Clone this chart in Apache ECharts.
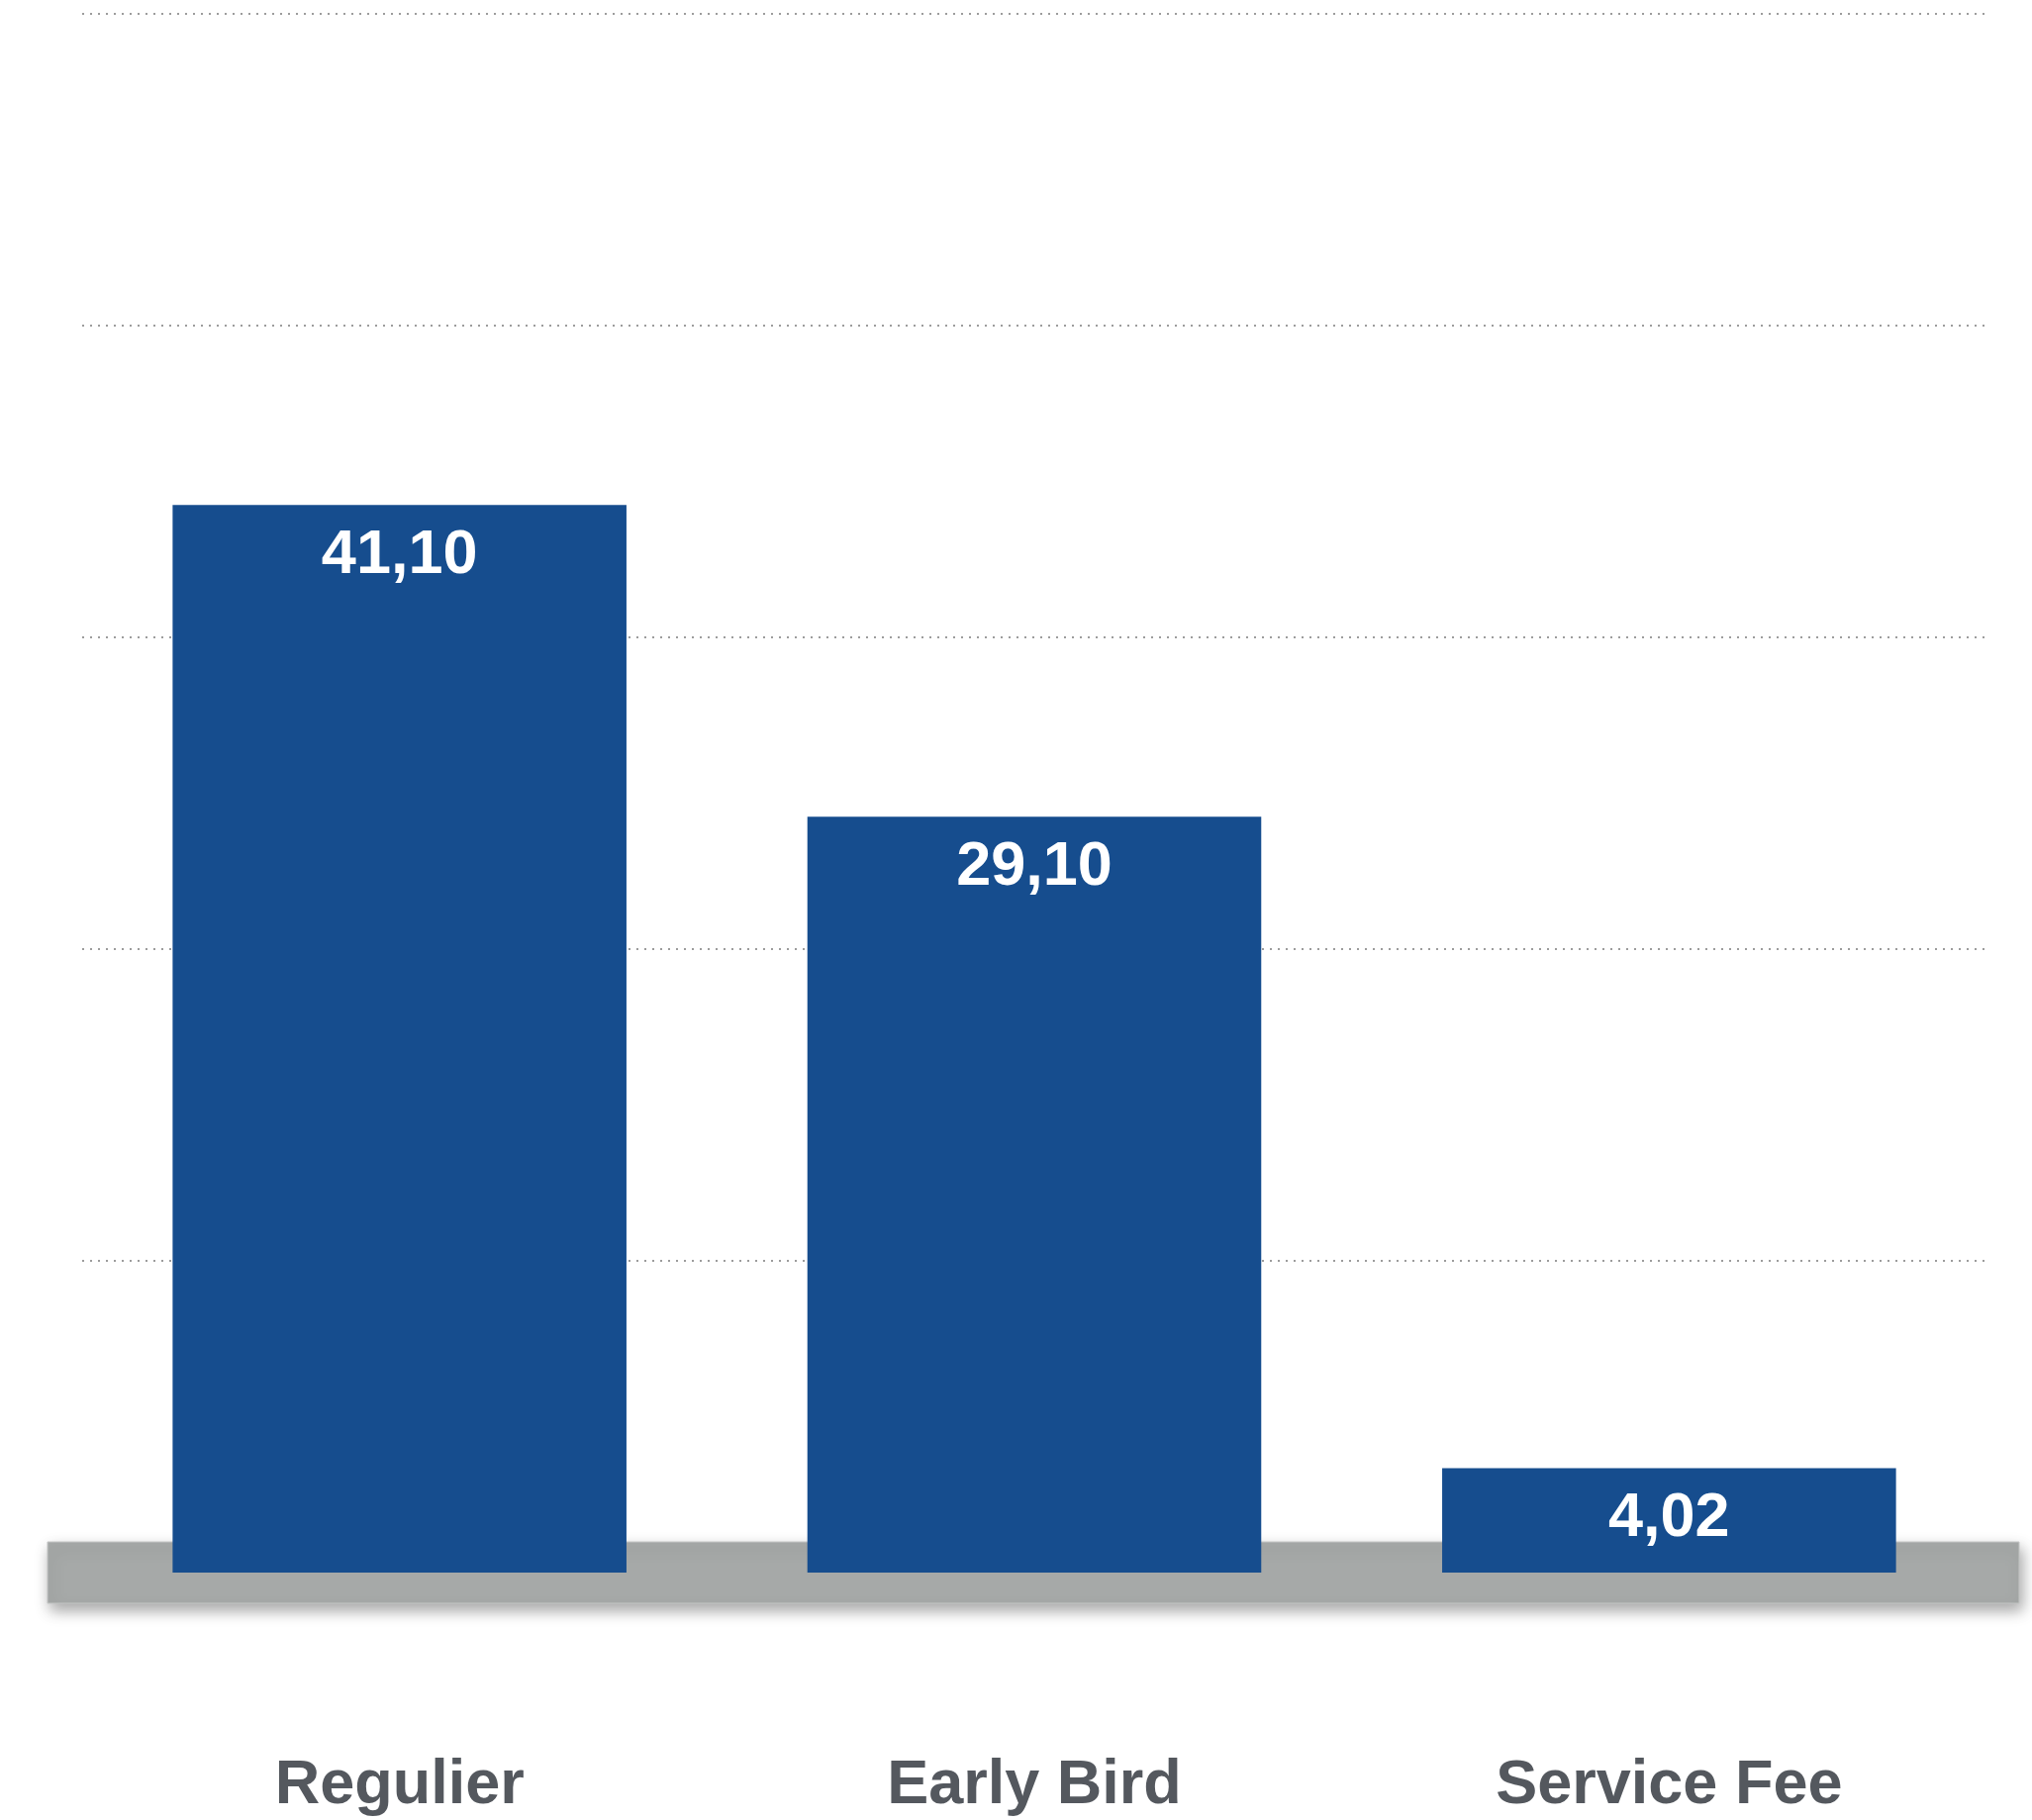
<!DOCTYPE html>
<html>
<head>
<meta charset="utf-8">
<style>html,body{margin:0;padding:0;background:#fff;}#c{width:2053px;height:1839px;}</style>
<script src="https://cdn.jsdelivr.net/npm/echarts@6/dist/echarts.min.js"></script>
</head>
<body>
<div id="c"></div>
<script>
const categories = ['Regulier', 'Early Bird', 'Service Fee'];
const values = [41.10, 29.10, 4.02];
const axisMin = 0, axisMax = 60, axisInterval = 12;

const chart = echarts.init(document.getElementById('c'), null, {renderer: 'canvas'});
chart.setOption({
  backgroundColor: '#ffffff',
  animation: false,
  grid: {left: 83, right: 46, top: 14, bottom: 250, containLabel: false},
  graphic: [{
    type: 'rect',
    z: 1,
    silent: true,
    shape: {x: 48, y: 1558, width: 1992, height: 62},
    style: {
      fill: '#a6a9a8',
      stroke: '#c4c6c5',
      lineWidth: 1,
      shadowBlur: 14,
      shadowOffsetX: 3,
      shadowOffsetY: 7,
      shadowColor: 'rgba(0,0,0,0.35)'
    }
  }],
  xAxis: {
    type: 'category',
    data: categories,
    axisLine: {show: false},
    axisTick: {show: false},
    axisLabel: {
      margin: 184,
      fontFamily: '"Liberation Sans", Arial, Helvetica, sans-serif',
      fontWeight: 'bold',
      fontSize: 63,
      lineHeight: 64,
      color: '#54585e'
    }
  },
  yAxis: {
    type: 'value',
    min: axisMin,
    max: axisMax,
    interval: axisInterval,
    axisLine: {show: false},
    axisTick: {show: false},
    axisLabel: {show: false},
    splitLine: {
      show: true,
      lineStyle: {color: '#9c9c9c', width: 2, type: [2, 6]}
    }
  },
  series: [{
    type: 'bar',
    z: 2,
    data: values,
    barCategoryGap: '28.5%',
    itemStyle: {color: '#164d8e'},
    label: {
      show: true,
      position: 'insideTop',
      distance: 19,
      fontFamily: '"Liberation Sans", Arial, Helvetica, sans-serif',
      fontWeight: 'bold',
      fontSize: 63,
      lineHeight: 64,
      color: '#ffffff',
      formatter: function (p) { return p.value.toFixed(2).replace('.', ','); }
    }
  }]
});
</script>
</body>
</html>
